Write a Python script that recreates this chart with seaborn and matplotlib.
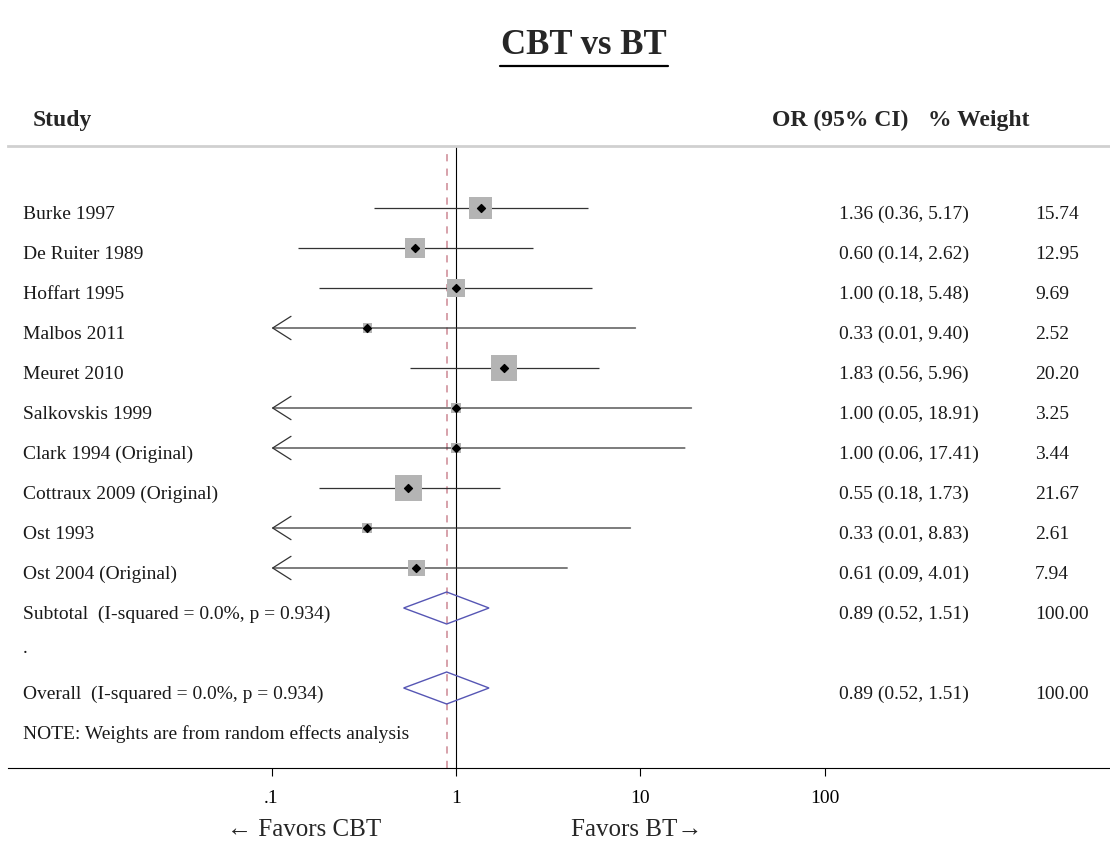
import matplotlib
matplotlib.use('Agg')
import matplotlib.pyplot as plt
import matplotlib.transforms as mtransforms
import seaborn as sns

# study level data
studies = ['Burke 1997', 'De Ruiter 1989', 'Hoffart 1995', 'Malbos 2011', 'Meuret 2010',
           'Salkovskis 1999', 'Clark 1994 (Original)', 'Cottraux 2009 (Original)',
           'Ost 1993', 'Ost 2004 (Original)']
odds_ratio = [1.36, 0.60, 1.00, 0.33, 1.83, 1.00, 1.00, 0.55, 0.33, 0.61]
ci_low = [0.36, 0.14, 0.18, 0.01, 0.56, 0.05, 0.06, 0.18, 0.01, 0.09]
ci_high = [5.17, 2.62, 5.48, 9.40, 5.96, 18.91, 17.41, 1.73, 8.83, 4.01]
weights = [15.74, 12.95, 9.69, 2.52, 20.20, 3.25, 3.44, 21.67, 2.61, 7.94]

# pooled estimates
pooled_labels = ['Subtotal  (I-squared = 0.0%, p = 0.934)',
                 'Overall  (I-squared = 0.0%, p = 0.934)']
pooled_or = [0.89, 0.89]
pooled_low = [0.52, 0.52]
pooled_high = [1.51, 1.51]
pooled_weight = [100.00, 100.00]

ticks = [0.1, 1, 10, 100]
tick_labels = ['.1', '1', '10', '100']

sns.set_theme(style='white')
plt.rcParams['font.family'] = ['Liberation Serif', 'DejaVu Serif']

fig = plt.figure(figsize=(11.1, 8.44), dpi=100)
ax = fig.add_axes([8 / 1110, (844 - 768) / 844, 1102 / 1110, (768 - 146) / 844])
ax.set_xscale('log')
ax.set_xlim(10 ** ((8 - 456) / 184.5), 10 ** ((1110 - 456) / 184.5))
ax.set_ylim(14.0, -1.55)
ax.minorticks_off()

rows = list(range(len(studies)))
pooled_rows = [10, 12]
clip = 0.1

# reference lines
ax.axvline(1, color='black', lw=0.8, zorder=1)
ax.axvline(pooled_or[1], color='#d49aa4', lw=1.3, ls=(0, (4, 4)), zorder=1)

# confidence intervals
for y, lo, hi in zip(rows, ci_low, ci_high):
    if lo < clip:
        ax.annotate('', xy=(clip, y), xytext=(hi, y),
                    arrowprops=dict(arrowstyle='->,head_length=1.1,head_width=0.7',
                                    color='#333333', lw=0.9, shrinkA=0, shrinkB=0))
    else:
        ax.hlines(y, lo, hi, color='#333333', lw=0.9, zorder=2)

# weight squares and point estimates
sns.scatterplot(x=odds_ratio, y=rows, size=weights,
                sizes={w: 17.4 * w for w in weights}, marker='s',
                color='#b4b4b4', edgecolor='none', legend=False, ax=ax, zorder=3)
ax.scatter(odds_ratio, rows, marker='D', s=16, color='black', zorder=4)

# pooled diamonds
for y, est, lo, hi in zip(pooled_rows, pooled_or, pooled_low, pooled_high):
    ax.fill([lo, est, hi, est, lo], [y, y - 0.4, y, y + 0.4, y],
            facecolor='none', edgecolor='#5656b4', lw=1.0, zorder=3)

# axis styling
for side in ['left', 'right']:
    ax.spines[side].set_visible(False)
ax.spines['bottom'].set_color('black')
ax.spines['bottom'].set_linewidth(0.8)
ax.spines['top'].set_color('#d0d0d0')
ax.spines['top'].set_linewidth(2)
ax.set_yticks([])
ax.set_xticks(ticks)
ax.set_xticklabels(tick_labels)
ax.tick_params(axis='x', direction='out', length=6, width=0.8, pad=10,
               labelsize=14, colors='black', bottom=True)

# text columns
tr = mtransforms.blended_transform_factory(fig.transFigure, ax.transData)
txt = dict(transform=tr, fontsize=14, va='center', clip_on=False, color='#1a1a1a')
for y, name, est, lo, hi, w in zip(rows, studies, odds_ratio, ci_low, ci_high, weights):
    ax.text(23 / 1110, y + 0.15, name, **txt)
    ax.text(839 / 1110, y + 0.15, f'{est:.2f} ({lo:.2f}, {hi:.2f})', **txt)
    ax.text(1035 / 1110, y + 0.15, f'{w:.2f}', **txt)
for y, name, est, lo, hi, w in zip(pooled_rows, pooled_labels, pooled_or,
                                   pooled_low, pooled_high, pooled_weight):
    ax.text(23 / 1110, y + 0.15, name, **txt)
    ax.text(839 / 1110, y + 0.15, f'{est:.2f} ({lo:.2f}, {hi:.2f})', **txt)
    ax.text(1035 / 1110, y + 0.15, f'{w:.2f}', **txt)
ax.text(23 / 1110, 11.0, '.', **txt)
ax.text(23 / 1110, 13.15, 'NOTE: Weights are from random effects analysis', **txt)

# headers
hdr = dict(transform=tr, fontsize=17, fontweight='bold', va='center', clip_on=False)
ax.text(33 / 1110, -2.2, 'Study', **hdr)
ax.text(772 / 1110, -2.2, 'OR (95% CI)', **hdr)
ax.text(928 / 1110, -2.2, '% Weight', **hdr)

# title with underline
fig.text(584 / 1110, 1 - 45 / 844, 'CBT vs BT', fontsize=25, fontweight='bold',
         ha='center', va='center')
fig.add_artist(plt.Line2D([500 / 1110, 668 / 1110], [1 - 66 / 844, 1 - 66 / 844],
                          color='black', lw=1.6))

# favours labels
fig.text(304 / 1110, 1 - 830 / 844, '← Favors CBT', fontsize=18, ha='center', va='center')
fig.text(637 / 1110, 1 - 830 / 844, 'Favors BT→', fontsize=18, ha='center', va='center')

fig.savefig('out.png', dpi=100)
